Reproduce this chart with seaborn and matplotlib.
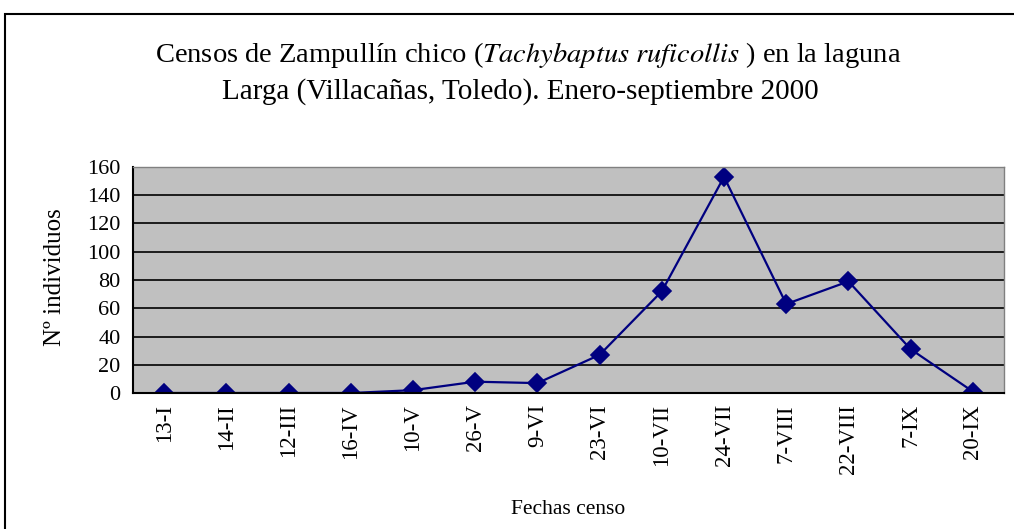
"""Censos de Zampullín chico - laguna Larga 2000 (recreated chart)."""

import matplotlib
matplotlib.use("Agg")

import matplotlib.pyplot as plt
import pandas as pd
import seaborn as sns
from matplotlib.patches import Rectangle
from matplotlib.ticker import FixedLocator

fechas = ["13-I", "14-II", "12-III", "16-IV", "10-V", "26-V", "9-VI",
          "23-VI", "10-VII", "24-VII", "7-VIII", "22-VIII", "7-IX", "20-IX"]
individuos = [0, 0, 0, 0, 2, 8, 7, 27, 72, 153, 63, 79, 31, 1]
y_ticks = [0, 20, 40, 60, 80, 100, 120, 140, 160]

df = pd.DataFrame({"fecha": fechas, "n": individuos})

sns.set_style("white")
plt.rcParams["font.family"] = ["Liberation Serif", "DejaVu Serif"]
plt.rcParams["mathtext.fontset"] = "stix"
for key in ["text.color", "axes.labelcolor", "xtick.color", "ytick.color"]:
    plt.rcParams[key] = "black"

fig = plt.figure(figsize=(10.14, 5.29), dpi=100)
ax = fig.add_axes([133 / 1014, 1 - 393 / 529, (1004 - 133) / 1014, (393 - 167) / 529])
ax.set_facecolor("#C0C0C0")

sns.pointplot(
    data=df, x="fecha", y="n", ax=ax, color="#000080",
    markers="D", markersize=9, linewidth=1.6, errorbar=None,
)

ax.set_ylim(0, 160)
ax.set_xlim(-0.5, len(fechas) - 0.5)
ax.yaxis.set_major_locator(FixedLocator(y_ticks))
ax.grid(axis="y", color="black", linewidth=1.2)
ax.set_axisbelow(True)

ax.xaxis.set_minor_locator(FixedLocator([i - 0.5 for i in range(len(fechas) + 1)]))
ax.tick_params(axis="x", which="major", length=0, pad=8, labelsize=16.5, rotation=90)
ax.tick_params(axis="x", which="minor", length=6, width=1.2, color="black", direction="out")
ax.tick_params(axis="y", length=6, width=1.2, color="black", direction="out", labelsize=16, pad=3)
for lbl in ax.get_xticklabels():
    lbl.set_verticalalignment("top")

for side in ["left", "bottom"]:
    ax.spines[side].set_color("black")
    ax.spines[side].set_linewidth(1.5)
for side in ["top", "right"]:
    ax.spines[side].set_color("#808080")
    ax.spines[side].set_linewidth(1.0)

ax.set_xlabel("Fechas censo", fontsize=15.5)
ax.set_ylabel("Nº individuos", fontsize=18)
ax.xaxis.set_label_coords((568 - 133) / (1004 - 133), -(500 - 393) / (393 - 167))
ax.yaxis.set_label_coords(-(133 - 66) / (1004 - 133), (393 - 277) / (393 - 167))

fig.text(528 / 1014, 1 - 55 / 529,
         r"Censos de Zampullín chico ($\mathit{Tachybaptus\ ruficollis}$ ) en la laguna",
         ha="center", va="center", fontsize=20.5)
fig.text(520 / 1014, 1 - 92 / 529,
         "Larga (Villacañas, Toledo). Enero-septiembre 2000",
         ha="center", va="center", fontsize=21)

# chart-area frame as in the spreadsheet export
fig.patches.append(Rectangle((5 / 1014, -0.1), 1.2, 1 - 14 / 529 + 0.1,
                             transform=fig.transFigure, fill=False,
                             edgecolor="black", linewidth=1.5))

fig.savefig("out.png", dpi=100)
plt.close(fig)
